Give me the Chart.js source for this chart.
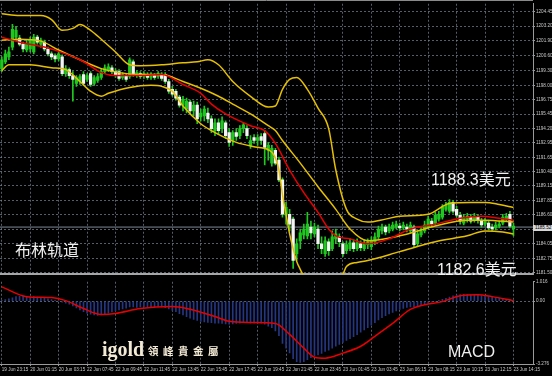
<!DOCTYPE html>
<html><head><meta charset="utf-8">
<script src="https://cdn.jsdelivr.net/npm/chart.js@4"></script>
<style>
html,body{margin:0;padding:0;background:#000;width:552px;height:376px;overflow:hidden}
#wrap{position:relative;width:552px;height:376px;background:#000}
canvas{position:absolute;left:0}
.t{position:absolute;color:#efefef;font-family:"Liberation Sans","Noto Sans CJK SC",sans-serif;font-size:16px;line-height:1;white-space:nowrap}
.cjk{font-family:"Noto Sans CJK SC",sans-serif}
#bid{position:absolute;left:533px;top:225px;width:19px;height:6px;background:#d6d6d6;color:#000;font-family:"Liberation Sans",sans-serif;font-size:4.6px;line-height:6px;padding-left:2px;box-sizing:border-box}
</style></head><body>
<div id="wrap">
<canvas id="main" width="552" height="278" style="top:0"></canvas>
<canvas id="macd" width="552" height="98" style="top:278px"></canvas>
<div class="t cjk" style="left:15px;top:241px">布林轨道</div>
<div class="t" style="left:431px;top:170px">1188.3<span class="cjk">美元</span></div>
<div class="t" style="left:437px;top:260px">1182.6<span class="cjk">美元</span></div>
<div class="t" style="left:448px;top:344px">MACD</div>
<div class="t" style="left:102px;top:339px;font-family:'Liberation Serif',serif;font-weight:bold;font-size:20px;color:#f3ead6">igold</div>
<div class="t cjk" style="left:148px;top:346px;font-size:10.5px;font-weight:bold;letter-spacing:4.5px;color:#f3ead6">領峰貴金屬</div>
<div id="bid">1185.52</div>
</div>
<script>
// ---------- data ----------
const timeTicks = ["19 Jun 23:15","20 Jun 01:15","20 Jun 03:15","22 Jun 07:45","22 Jun 09:45","22 Jun 11:45","22 Jun 13:45","22 Jun 15:45","22 Jun 17:45","22 Jun 19:45","22 Jun 21:45","22 Jun 23:45","23 Jun 01:45","23 Jun 03:45","23 Jun 06:15","23 Jun 08:15","23 Jun 10:15","23 Jun 12:15","23 Jun 14:15"];
const priceTicks = [1204.45,1203.20,1201.90,1200.60,1199.30,1198.00,1196.75,1195.45,1194.20,1192.95,1191.65,1190.40,1189.15,1187.85,1186.60,1185.30,1184.05,1182.75,1181.50];
const macdTicks = [1.016,0,-3.276];
const bidPrice = 1185.52;

const open = [1199.46,1200.06,1200.50,1201.36,1202.23,1202.14,1201.62,1201.10,1201.19,1200.93,
1202.23,1201.62,1201.79,1201.19,1200.76,1200.58,1200.32,1200.50,1199.02,1199.37,
1198.85,1198.16,1198.33,1198.94,1198.51,1199.02,1198.16,1198.42,1198.68,1199.20,
1199.37,1199.54,1199.20,1199.20,1198.68,1198.85,1198.77,1200.06,1198.85,1199.02,
1198.77,1198.94,1198.68,1198.85,1198.77,1198.94,1198.94,1198.33,1197.64,1197.47,
1196.95,1196.25,1195.91,1196.51,1195.74,1196.25,1195.22,1195.30,1195.56,1195.04,
1194.01,1194.70,1194.18,1194.70,1193.83,1193.14,1193.83,1193.57,1194.18,1194.18,
1192.71,1193.40,1193.14,1193.49,1193.75,1192.27,1191.15,1192.27,1191.41,1189.68,
1186.56,1186.65,1186.22,1183.19,1184.31,1184.83,1184.75,1185.52,1184.92,1185.35,
1184.05,1183.19,1184.23,1183.62,1184.48,1184.66,1184.05,1183.45,1183.62,1184.14,
1183.62,1184.05,1183.62,1183.97,1183.80,1184.23,1184.66,1185.18,1185.52,1185.18,
1185.35,1185.52,1185.61,1185.44,1185.52,1185.18,1185.52,1184.05,1184.83,1185.18,
1185.52,1186.04,1185.87,1186.22,1186.39,1187.08,1186.91,1187.69,1187.08,1186.56,
1185.87,1186.22,1186.39,1186.13,1186.39,1186.04,1185.78,1185.87,1185.52,1185.44,
1185.61,1185.87,1186.22,1186.65,1185.35];
const high = [1200.50,1201.10,1201.36,1203.35,1203.18,1202.40,1201.79,1201.97,1202.23,1202.49,
1202.40,1202.14,1201.97,1201.36,1200.93,1200.76,1200.93,1200.67,1199.72,1199.54,
1199.20,1198.85,1198.94,1199.20,1199.02,1199.20,1198.85,1199.02,1199.46,1199.80,
1199.89,1199.72,1199.46,1199.37,1199.11,1199.02,1200.41,1200.24,1199.28,1199.20,
1199.20,1199.11,1199.11,1199.02,1199.20,1199.11,1199.11,1198.51,1197.90,1197.64,
1197.12,1197.03,1196.86,1196.69,1196.60,1196.51,1195.91,1196.17,1195.99,1195.30,
1195.04,1195.04,1195.22,1194.87,1194.18,1194.01,1194.18,1194.44,1194.70,1194.44,
1193.57,1193.66,1193.66,1193.75,1194.01,1192.97,1192.71,1192.45,1191.67,1189.85,
1187.69,1187.08,1186.39,1184.48,1185.35,1185.78,1186.82,1186.04,1185.87,1185.70,
1184.66,1184.66,1184.48,1185.18,1185.35,1184.92,1184.23,1184.31,1184.48,1184.40,
1184.48,1184.31,1184.40,1184.48,1184.66,1185.01,1185.61,1185.78,1185.70,1185.78,
1185.96,1186.04,1185.87,1185.96,1185.78,1185.96,1185.70,1185.18,1185.44,1186.04,
1186.48,1186.30,1186.82,1186.91,1187.51,1187.69,1187.95,1187.86,1187.34,1186.82,
1186.65,1186.74,1186.65,1186.74,1186.65,1186.30,1186.30,1186.13,1185.78,1185.96,
1186.04,1186.65,1186.74,1186.91,1185.87];
const low = [1199.20,1199.89,1200.24,1201.10,1201.97,1201.45,1200.93,1200.93,1200.93,1200.76,
1201.62,1201.36,1201.02,1200.58,1200.24,1200.06,1200.15,1198.85,1198.77,1198.59,
1196.60,1197.90,1198.07,1197.99,1198.33,1197.90,1197.99,1198.25,1198.51,1199.02,
1199.20,1199.02,1198.68,1198.42,1198.51,1198.33,1198.59,1198.77,1198.68,1198.59,
1198.59,1198.51,1198.51,1198.51,1198.59,1198.42,1198.16,1197.29,1197.03,1196.69,
1196.08,1195.74,1195.56,1195.48,1195.30,1194.61,1194.87,1194.87,1194.70,1193.83,
1193.57,1193.66,1193.83,1193.31,1192.62,1192.71,1193.14,1193.31,1193.83,1193.31,
1192.45,1192.88,1192.71,1192.80,1190.98,1191.41,1190.89,1190.98,1189.51,1186.39,
1185.78,1185.18,1181.89,1182.58,1183.62,1184.48,1184.48,1184.48,1184.66,1183.62,
1183.19,1182.93,1183.02,1183.45,1184.05,1183.80,1182.93,1183.19,1183.45,1183.36,
1183.45,1183.45,1183.45,1183.62,1183.54,1183.97,1184.40,1184.92,1184.83,1185.01,
1185.18,1185.35,1185.18,1185.26,1185.09,1185.01,1183.71,1183.80,1184.66,1185.01,
1185.35,1185.52,1185.70,1186.04,1186.22,1186.91,1186.74,1186.74,1186.39,1185.78,
1185.70,1185.96,1185.87,1185.96,1185.87,1185.52,1185.61,1185.26,1185.18,1185.26,
1185.44,1185.70,1186.04,1185.44,1184.75];
const close = [1200.24,1200.76,1200.93,1202.92,1202.83,1201.62,1201.19,1201.62,1201.97,1202.23,
1201.79,1201.97,1201.19,1200.76,1200.50,1200.32,1200.76,1199.02,1199.46,1198.85,
1198.51,1198.68,1198.77,1198.16,1198.85,1198.07,1198.68,1198.77,1199.20,1199.54,
1199.63,1199.20,1198.85,1198.59,1198.94,1198.51,1200.24,1199.02,1199.11,1198.77,
1199.02,1198.68,1198.94,1198.68,1199.02,1198.59,1198.33,1197.47,1197.21,1196.86,
1196.25,1196.77,1196.60,1195.74,1196.25,1195.04,1195.56,1195.91,1195.04,1194.18,
1194.70,1194.01,1194.87,1193.57,1192.97,1193.83,1193.49,1194.18,1194.52,1193.57,
1193.14,1193.14,1193.40,1193.14,1192.54,1192.71,1192.45,1191.15,1189.68,1186.65,
1187.25,1185.78,1182.58,1184.05,1185.01,1185.35,1185.78,1185.01,1185.52,1184.05,
1183.62,1184.31,1183.45,1184.66,1184.92,1184.23,1183.19,1183.97,1184.14,1183.62,
1184.14,1183.71,1184.14,1184.23,1184.31,1184.66,1185.35,1185.52,1185.09,1185.52,
1185.70,1185.78,1185.44,1185.70,1185.35,1185.70,1183.97,1184.92,1185.18,1185.70,
1186.22,1185.78,1186.56,1186.65,1187.25,1187.43,1187.69,1186.91,1186.56,1186.04,
1186.39,1186.48,1186.04,1186.48,1186.13,1185.70,1186.04,1185.44,1185.35,1185.70,
1185.78,1186.39,1186.48,1185.61,1185.61];

const upperIdx = [0,5,11,14,17,20,22,25,28,32,36,39,45,51,55,58,61,65,70,75,77,79,81,83,86,89,92,94,97,100,103,108,112,120,126,132,136,140,144];
const upperBand = [1204.30,1204.13,1204.13,1203.78,1202.83,1203.00,1203.35,1202.83,1202.05,1200.93,1199.80,1199.72,1199.80,1199.98,1200.06,1200.24,1199.80,1198.33,1197.03,1196.08,1196.17,1197.64,1198.51,1198.68,1197.64,1195.99,1194.18,1190.54,1187.08,1186.22,1185.96,1186.22,1186.48,1186.65,1187.60,1187.69,1187.69,1187.51,1187.25];
const midIdx = [0,5,11,16,22,28,33,39,45,51,56,61,65,70,75,77,79,84,89,94,98,103,112,122,131,136,144];
const midBand = [1201.97,1202.05,1201.88,1201.10,1200.24,1199.46,1199.11,1198.94,1198.94,1198.33,1197.73,1197.03,1196.34,1195.48,1194.44,1194.01,1193.14,1191.15,1189.07,1187.08,1185.35,1184.31,1184.75,1185.61,1186.13,1186.13,1185.96];
const lowerIdx = [0,2,8,14,18,22,25,28,30,36,42,45,48,51,56,59,66,72,76,78,79,80,81,82,83,84,85,86,89,92,94,96,97,100,103,112,122,131,136,141,144];
const lowerBand = [1199.28,1199.80,1199.80,1199.54,1199.37,1198.33,1197.47,1197.03,1197.29,1197.81,1197.99,1197.90,1197.47,1196.17,1194.61,1194.01,1192.97,1192.54,1192.10,1190.54,1188.38,1186.65,1184.92,1183.62,1182.50,1181.80,1181.20,1180.76,1180.16,1180.16,1180.59,1181.37,1182.06,1182.41,1182.58,1183.36,1184.23,1184.75,1185.18,1185.09,1184.92];
const maIdx = [0,5,12,18,22,24,28,32,39,45,51,56,59,63,70,74,77,81,85,89,92,94,98,103,109,115,122,129,135,140,144];
const maLine = [1202.23,1201.79,1201.36,1200.76,1200.24,1199.89,1199.11,1198.85,1198.85,1198.94,1198.07,1197.29,1196.34,1195.48,1194.44,1194.01,1192.88,1190.54,1188.55,1186.82,1185.35,1184.75,1184.48,1184.05,1184.48,1185.35,1185.78,1186.30,1186.48,1186.30,1186.13];

const macdHist = [0.05,0.08,0.12,0.18,0.24,0.26,0.25,0.22,0.22,0.24,
0.22,0.2,0.16,0.12,0.08,0.05,0.03,-0.05,-0.1,-0.15,
-0.25,-0.35,-0.45,-0.55,-0.62,-0.68,-0.72,-0.74,-0.72,-0.68,
-0.62,-0.56,-0.5,-0.45,-0.4,-0.36,-0.3,-0.3,-0.32,-0.3,
-0.3,-0.32,-0.3,-0.32,-0.3,-0.3,-0.34,-0.4,-0.48,-0.55,
-0.65,-0.72,-0.8,-0.88,-0.95,-1.0,-1.05,-1.08,-1.1,-1.12,
-1.14,-1.15,-1.16,-1.18,-1.2,-1.18,-1.16,-1.14,-1.12,-1.12,
-1.14,-1.15,-1.16,-1.15,-1.2,-1.3,-1.38,-1.55,-1.8,-2.2,
-2.45,-2.7,-3.0,-3.15,-3.2,-3.15,-3.05,-2.95,-2.85,-2.8,
-2.72,-2.62,-2.55,-2.45,-2.35,-2.25,-2.15,-2.05,-1.95,-1.85,
-1.75,-1.62,-1.5,-1.38,-1.25,-1.12,-0.98,-0.86,-0.75,-0.66,
-0.58,-0.5,-0.43,-0.38,-0.32,-0.3,-0.28,-0.25,-0.2,-0.15,
-0.1,-0.05,0.0,0.05,0.1,0.15,0.22,0.28,0.32,0.35,
0.36,0.35,0.34,0.33,0.32,0.3,0.28,0.25,0.22,0.18,
0.15,0.12,0.1,0.08,0.05];
const sigIdx = [0,7,14,18,23,28,32,39,48,52,60,64,70,77,81,85,88,91,96,101,105,110,115,119,124,129,134,138,144];
const macdSignal = [0.75,0.24,0.19,0.03,-0.38,-0.69,-0.64,-0.38,-0.28,-0.38,-0.80,-1.05,-1.11,-1.16,-1.73,-2.45,-2.92,-2.97,-2.71,-2.35,-1.83,-1.16,-0.43,-0.18,-0.02,0.29,0.34,0.24,0.03];

// ---------- style ----------
const SLOTS = 150;
const GREEN = '#1ec81e', WHITE = '#f4f4f4', YEL = '#e6c000', RED = '#e80000';
const GRID = 'rgba(120,134,150,0.7)', AXIS = '#9a9a9a', TXT = '#c8c8c8';
const tinyFont = {family:'Liberation Sans', size:4.6};
Chart.defaults.font.family = 'Liberation Sans';

const pts = (ix, vals) => ix.map((x,k)=>({x, y: vals[k]}));
const lineDs = (data, color, w) => ({type:'line', data, borderColor:color, borderWidth:w, pointRadius:0, cubicInterpolationMode:'monotone', fill:false, order:0});
const xTickSetter = s => { s.ticks = timeTicks.map((_,k)=>({value:k*8})); };

const framePlugin = {id:'frame', afterDraw(c){ if(c.canvas.id!=='main') return; const g=c.ctx; g.save(); g.strokeStyle='#8a8a8a'; g.lineWidth=1; g.beginPath(); g.moveTo(0,0.5); g.lineTo(c.chartArea.right,0.5); g.stroke(); g.restore(); }};

new Chart(document.getElementById('main'), {
  type:'bar',
  plugins:[framePlugin],
  data:{datasets:[
    lineDs(pts(upperIdx, upperBand), YEL, 1.5),
    lineDs(pts(midIdx, midBand), YEL, 1.5),
    lineDs(pts(lowerIdx, lowerBand), YEL, 1.5),
    Object.assign(lineDs(pts(maIdx, maLine), RED, 1.5), {order:-1}),
    {type:'line', data:[{x:-0.5,y:bidPrice},{x:SLOTS-0.5,y:bidPrice}], borderColor:'#7d8896', borderWidth:1, pointRadius:0, order:5},
    {type:'bar', data: open.map((_,i)=>({x:i, y:[low[i], high[i]]})), backgroundColor:GREEN, barThickness:1, grouped:false, order:3},
    {type:'bar', data: open.map((o,i)=>({x:i, y:[o, close[i]]})), backgroundColor: open.map((o,i)=> close[i]>=o ? GREEN : WHITE), barThickness:2.6, minBarLength:1, grouped:false, order:2}
  ]},
  options:{
    responsive:false, animation:false, devicePixelRatio:1,
    layout:{padding:{top:1,bottom:2,left:0,right:0}},
    plugins:{legend:{display:false}, tooltip:{enabled:false}},
    scales:{
      x:{type:'linear', min:-0.5, max:SLOTS-0.5, offset:false, afterBuildTicks:xTickSetter,
         afterFit:s=>{s.height=0;},
         ticks:{display:false}, grid:{color:GRID, drawTicks:false, offset:false},
         border:{display:true, color:'#a6a6a6', width:2, dash:[2,2]}},
      y:{position:'right', min:1181.37, max:1205.17,
         afterBuildTicks:s=>{ s.ticks = priceTicks.map(v=>({value:v})); },
         afterFit:s=>{s.width=19;},
         ticks:{font:tinyFont, color:TXT, padding:1, callback:v=>v.toFixed(2)},
         grid:{color:GRID, tickColor:AXIS, tickLength:2, tickBorderDash:[]},
         border:{display:true, color:AXIS, width:1, dash:[2,2]}}
    }
  }
});

new Chart(document.getElementById('macd'), {
  type:'bar',
  data:{datasets:[
    lineDs(pts(sigIdx, macdSignal), RED, 1.5),
    {type:'bar', data: macdHist.map((v,i)=>({x:i, y:v})), backgroundColor:'#253683', barThickness:1, grouped:false, order:2}
  ]},
  options:{
    responsive:false, animation:false, devicePixelRatio:1,
    layout:{padding:{top:1,bottom:0,left:0,right:0}},
    plugins:{legend:{display:false}, tooltip:{enabled:false}},
    scales:{
      x:{type:'linear', min:-0.5, max:SLOTS-0.5, offset:false, afterBuildTicks:xTickSetter,
         afterFit:s=>{s.height=12;},
         ticks:{font:tinyFont, color:TXT, align:'start', autoSkip:false, maxRotation:0, minRotation:0, padding:1,
                callback:v=>timeTicks[Math.round(v/8)]},
         grid:{color:GRID, tickColor:AXIS, tickLength:2, tickBorderDash:[], offset:false},
         border:{display:true, color:AXIS, width:1, dash:[2,2]}},
      y:{position:'right', min:-3.276, max:1.016,
         afterBuildTicks:s=>{ s.ticks = macdTicks.map(v=>({value:v})); },
         afterFit:s=>{s.width=19;},
         ticks:{font:tinyFont, color:TXT, padding:1, callback:v=> v===0 ? '0.00' : String(v)},
         grid:{color:c=> (c.tick && c.tick.value===0) ? GRID : 'rgba(0,0,0,0)', tickColor:AXIS, tickLength:2, tickBorderDash:[]},
         border:{display:true, color:AXIS, width:1, dash:[2,2]}}
    }
  }
});
</script>
</body></html>
